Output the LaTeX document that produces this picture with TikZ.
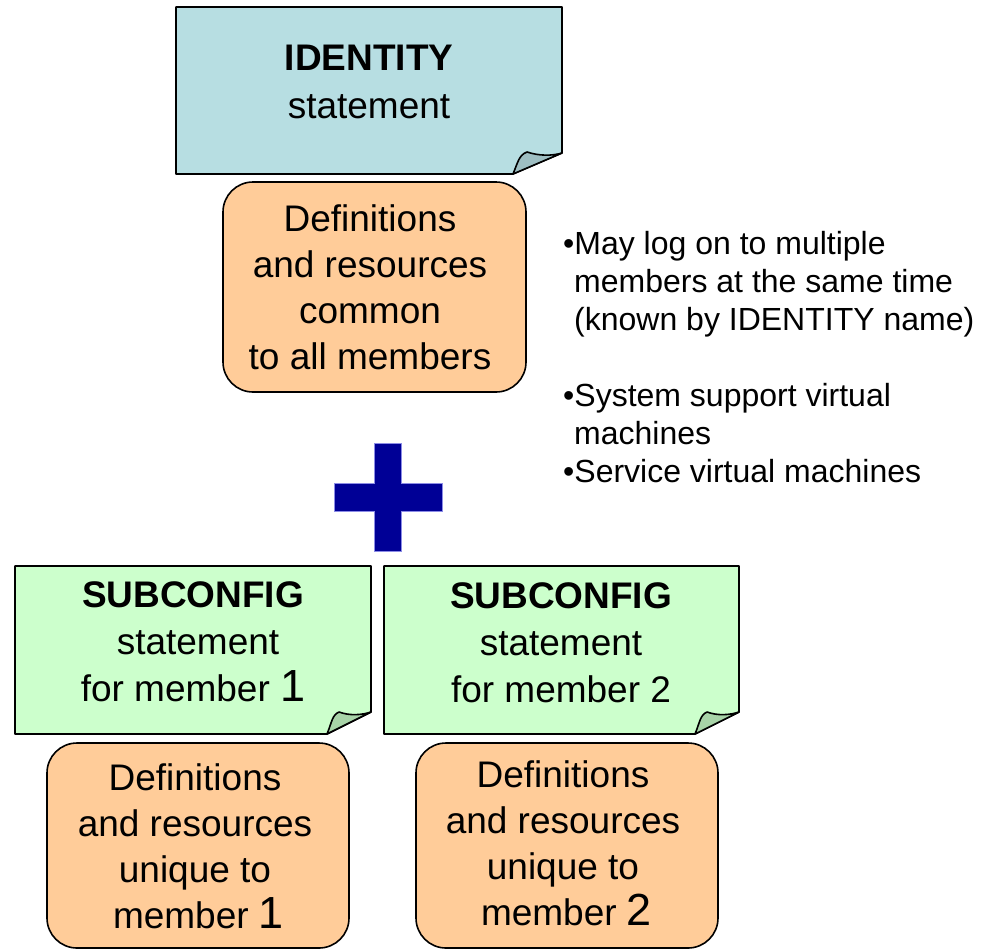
\documentclass[tikz,border=0pt]{standalone}
\usepackage{fontspec}
\setmainfont{Liberation Sans}
\definecolor{idfill}{RGB}{183,222,226}
\definecolor{idfold}{RGB}{158,190,194}
\definecolor{subfill}{RGB}{204,255,204}
\definecolor{subfold}{RGB}{168,212,168}
\definecolor{orfill}{RGB}{255,204,153}
\definecolor{plusblue}{RGB}{0,0,150}
\definecolor{plusedge}{RGB}{140,140,230}
\newcommand{\bigdigit}[1]{{\fontsize{45}{46}\selectfont #1}}
\begin{document}
\begin{tikzpicture}[x=1pt,y=-1pt,
  frame/.style={shape=rectangle, inner sep=0pt, outer sep=0pt},
  outline/.style={draw=black, line width=1.6pt, line join=round},
  defbox/.style={shape=rectangle, rounded corners=30pt, draw=black, line width=1.6pt, fill=orfill, inner sep=0pt, outer sep=0pt},
  boxtext/.style={align=center, font=\fontsize{37}{46}\selectfont, inner sep=0pt},
  titletext/.style={align=center, font=\fontsize{37}{48}\selectfont, inner sep=0pt},
  subtext/.style={align=center, font=\fontsize{37}{47}\selectfont, inner sep=0pt},
  bullettext/.style={anchor=base west, font=\fontsize{32}{38}\selectfont, inner sep=0pt},
]
\useasboundingbox[fill=white] (0,0) rectangle (987,951);

% IDENTITY note
\node[frame, minimum width=386pt, minimum height=167pt] (id) at (369,90.5) {};
\draw[outline, fill=idfill] (id.north west) -- (id.north east) -- ([yshift=21pt]id.south east)
  -- ([xshift=-49pt]id.south east) -- (id.south west) -- cycle;
\draw[outline, fill=idfold] ([xshift=-49pt]id.south east) .. controls +(5,-12) and +(-8,3) ..
  ([xshift=-35pt,yshift=22pt]id.south east) .. controls +(12,4) and +(-10,3) ..
  ([yshift=21pt]id.south east) -- cycle;
\node[titletext] (idtext) at (369,82) {\textbf{IDENTITY}\\statement};

% common definitions
\node[defbox, minimum width=303pt, minimum height=210pt] (common) at (374.5,287) {};
\node[boxtext] (commontext) at (370,287) {Definitions\\and resources\\common\\to all members};

% bullets
\node[bullettext] (b1) at (563,254) {•May log on to multiple};
\node[bullettext] (b2) at (574,292) {members at the same time};
\node[bullettext] (b3) at (574,330) {(known by IDENTITY name)};
\node[bullettext] (b4) at (563,406) {•System support virtual};
\node[bullettext] (b5) at (574,444) {machines};
\node[bullettext] (b6) at (563,482) {•Service virtual machines};

% plus sign
\filldraw[fill=plusblue, draw=plusedge, line width=0.8pt]
  (374,443) -- (401,443) -- (401,483) -- (442,483) -- (442,511) -- (401,511)
  -- (401,551) -- (374,551) -- (374,511) -- (334,511) -- (334,483) -- (374,483) -- cycle;

% SUBCONFIG 1
\node[frame, minimum width=356pt, minimum height=168pt] (sub1) at (193,650) {};
\draw[outline, fill=subfill] (sub1.north west) -- (sub1.north east) -- ([yshift=22pt]sub1.south east)
  -- ([xshift=-44pt]sub1.south east) -- (sub1.south west) -- cycle;
\draw[outline, fill=subfold] ([xshift=-44pt]sub1.south east) .. controls +(5,-12) and +(-7,3) ..
  ([xshift=-32pt,yshift=22pt]sub1.south east) .. controls +(11,4) and +(-9,3) ..
  ([yshift=22pt]sub1.south east) -- cycle;
\node[subtext] (sub1text) at (193,642) {\textbf{SUBCONFIG}\\\hspace*{10pt}statement\\for member \bigdigit{1}};

% SUBCONFIG 2
\node[frame, minimum width=355pt, minimum height=168pt] (sub2) at (561.5,650) {};
\draw[outline, fill=subfill] (sub2.north west) -- (sub2.north east) -- ([yshift=22pt]sub2.south east)
  -- ([xshift=-44pt]sub2.south east) -- (sub2.south west) -- cycle;
\draw[outline, fill=subfold] ([xshift=-44pt]sub2.south east) .. controls +(5,-12) and +(-7,3) ..
  ([xshift=-32pt,yshift=22pt]sub2.south east) .. controls +(11,4) and +(-9,3) ..
  ([yshift=22pt]sub2.south east) -- cycle;
\node[subtext] (sub2text) at (561,643) {\textbf{SUBCONFIG}\\statement\\for member 2};

% unique definitions
\node[defbox, minimum width=302pt, minimum height=205pt] (uniq1) at (198,845.5) {};
\node[boxtext] (uniq1text) at (195,846) {Definitions\\and resources\\unique to\\\hspace*{7pt}member \bigdigit{1}};
\node[defbox, minimum width=302pt, minimum height=205pt] (uniq2) at (567,845.5) {};
\node[boxtext] (uniq2text) at (563,843) {Definitions\\and resources\\unique to\\\hspace*{7pt}member \bigdigit{2}};
\end{tikzpicture}
\end{document}
